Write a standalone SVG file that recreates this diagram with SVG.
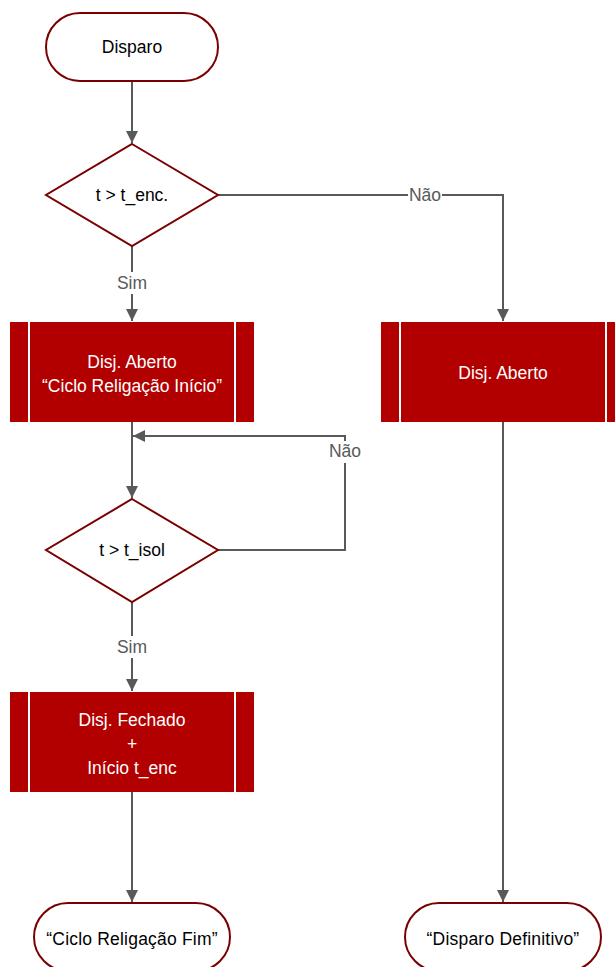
<svg xmlns="http://www.w3.org/2000/svg" width="615" height="967" viewBox="0 0 615 967">
<defs>
<style>
.term{fill:#ffffff;stroke:#7a0000;stroke-width:2}
.dec{fill:#ffffff;stroke:#7a0000;stroke-width:2}
.proc{fill:#b20000;stroke:none}
.div{stroke:#ffffff;stroke-width:2}
.edge{fill:none;stroke:#595959;stroke-width:2}
.t{font-family:"Liberation Sans",Arial,sans-serif;font-size:17.5px;text-anchor:middle;fill:#000000}
.te{font-family:"Liberation Sans",Arial,sans-serif;font-size:17.5px;letter-spacing:0.2px;text-anchor:middle;fill:#000000}
.tw{font-family:"Liberation Sans",Arial,sans-serif;font-size:17.5px;text-anchor:middle;fill:#ffffff}
.lbl{font-family:"Liberation Sans",Arial,sans-serif;font-size:17.5px;text-anchor:middle;fill:#595959}
</style>
<marker id="arr" viewBox="0 0 10 10" refX="10" refY="5" markerWidth="6" markerHeight="6" markerUnits="strokeWidth" orient="auto">
<path d="M0,0 L10,5 L0,10 z" fill="#595959"/>
</marker>
</defs>
<g id="connectors">
<path class="edge" d="M132,81 V143" marker-end="url(#arr)"/>
<path class="edge" d="M218,195 H503 V321" marker-end="url(#arr)"/>
<path class="edge" d="M132,246 V321" marker-end="url(#arr)"/>
<path class="edge" d="M132,422 V498" marker-end="url(#arr)"/>
<path class="edge" d="M218,550 H345 V436 H133" marker-end="url(#arr)"/>
<path class="edge" d="M132,602 V691" marker-end="url(#arr)"/>
<path class="edge" d="M132,792 V902" marker-end="url(#arr)"/>
<path class="edge" d="M503,422 V902" marker-end="url(#arr)"/>
<rect x="408" y="184" width="34" height="22" fill="#ffffff"/>
<text class="lbl" x="425" y="201">Não</text>
<rect x="114" y="272" width="36" height="22" fill="#ffffff"/>
<text class="lbl" x="132" y="289">Sim</text>
<rect x="327" y="441" width="36" height="22" fill="#ffffff"/>
<text class="lbl" x="345" y="457">Não</text>
<rect x="114" y="636" width="36" height="22" fill="#ffffff"/>
<text class="lbl" x="132" y="653">Sim</text>
</g>
<g id="disparo">
<rect class="term" x="46" y="13" width="172" height="68" rx="34" ry="34"/>
<text class="t" x="132" y="53">Disparo</text>
</g>
<g id="dec1">
<path class="dec" d="M132,144 L218,195 L132,246 L46,195 z"/>
<text class="t" x="132" y="201">t &gt; t_enc.</text>
</g>
<g id="proc1">
<rect class="proc" x="10" y="322" width="244" height="100"/>
<line class="div" x1="29" y1="322" x2="29" y2="422"/>
<line class="div" x1="235" y1="322" x2="235" y2="422"/>
<text class="tw" x="132" y="368">Disj. Aberto</text>
<text class="tw" x="132" y="392">“Ciclo Religação Início”</text>
</g>
<g id="proc2">
<rect class="proc" x="381" y="322" width="244" height="100"/>
<line class="div" x1="400" y1="322" x2="400" y2="422"/>
<line class="div" x1="606" y1="322" x2="606" y2="422"/>
<text class="tw" x="503" y="379">Disj. Aberto</text>
</g>
<g id="dec2">
<path class="dec" d="M132,499 L218,550 L132,602 L46,550 z"/>
<text class="t" x="132" y="556">t &gt; t_isol</text>
</g>
<g id="proc3">
<rect class="proc" x="10" y="692" width="244" height="100"/>
<line class="div" x1="29" y1="692" x2="29" y2="792"/>
<line class="div" x1="235" y1="692" x2="235" y2="792"/>
<text class="tw" x="132" y="726">Disj. Fechado</text>
<text class="tw" x="132" y="750">+</text>
<text class="tw" x="132" y="774">Início t_enc</text>
</g>
<g id="fim1">
<rect class="term" x="34" y="903" width="196" height="68" rx="34" ry="34"/>
<text class="te" x="132" y="945">“Ciclo Religação Fim”</text>
</g>
<g id="fim2">
<rect class="term" x="405" y="903" width="196" height="68" rx="34" ry="34"/>
<text class="te" x="503" y="945">“Disparo Definitivo”</text>
</g>
</svg>
